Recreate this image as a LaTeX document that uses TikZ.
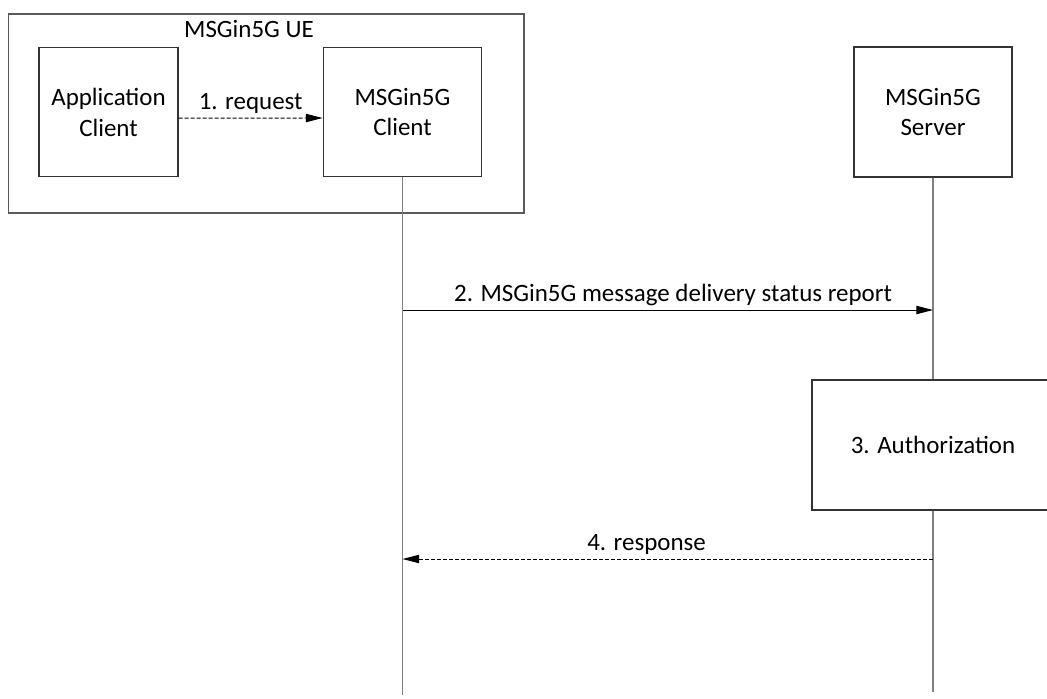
\documentclass[tikz,border=0pt]{standalone}
\usepackage{fontspec}
\setmainfont{Carlito}
\usetikzlibrary{arrows.meta}
\definecolor{lifegray}{HTML}{7F7F7F}
\definecolor{framegray}{HTML}{5A5A5A}

\begin{document}
\begin{tikzpicture}[x=0.03cm, y=-0.03cm,
  every node/.style={font=\fontsize{21.3}{26.4}\selectfont},
  entity/.style={draw=black!80, line width=1.2pt, align=center, inner sep=0pt},
  lifeline/.style={draw=lifegray, line width=1.6pt},
  msg/.style={draw=black, line width=0.8pt, -{Triangle[length=0.5cm, width=0.25cm]}},
  reply/.style={msg, dash pattern=on 0.12cm off 0.06cm}]
	\useasboundingbox (0,0) rectangle (1047,698);
	\clip (0,0) rectangle (1047,698);

	% UE frame and its entities
	\node (ue) at (266.2,113.5) [entity, draw=framegray, minimum width=15.47cm, minimum height=5.97cm] {};
	\node (ueLabel) at (249,29) {MSGin5G UE};
	\node (app) at (108.5,112.2) [entity, minimum width=4.17cm, minimum height=3.87cm] {Application\\Client};
	\node (cli) at (402.5,112) [entity, minimum width=4.755cm, minimum height=3.885cm] {MSGin5G\\Client};

	% server side
	\node (srv) at (933,112) [entity, minimum width=4.74cm, minimum height=3.9cm] {MSGin5G\\Server};
	\node (auth) at (933,445) [entity, minimum width=7.26cm, minimum height=3.9cm] {3. Authorization};

	% lifelines
	\coordinate (cliEnd) at (402.5,695);
	\coordinate (srvEnd) at (933,692);
	\draw[lifeline] (cli.south) -- (cliEnd);
	\draw[lifeline] (srv.south) -- (auth.north);
	\draw[lifeline] (auth.south) -- (srvEnd);

	% messages
	\coordinate (m2a) at (402.5,310);
	\coordinate (m2b) at (933,310);
	\coordinate (m4a) at (933,559);
	\coordinate (m4b) at (402.5,559);
	\draw[reply] ([yshift=-0.18cm]app.east) -- node[above] {1. request} ([yshift=-0.18cm]cli.west);
	\draw[msg] (m2a) -- node[pos=0.51, above] {2. MSGin5G message delivery status report} (m2b);
	\draw[reply] (m4a) -- node[pos=0.54, above] {4. response} (m4b);

\end{tikzpicture}
\end{document}
